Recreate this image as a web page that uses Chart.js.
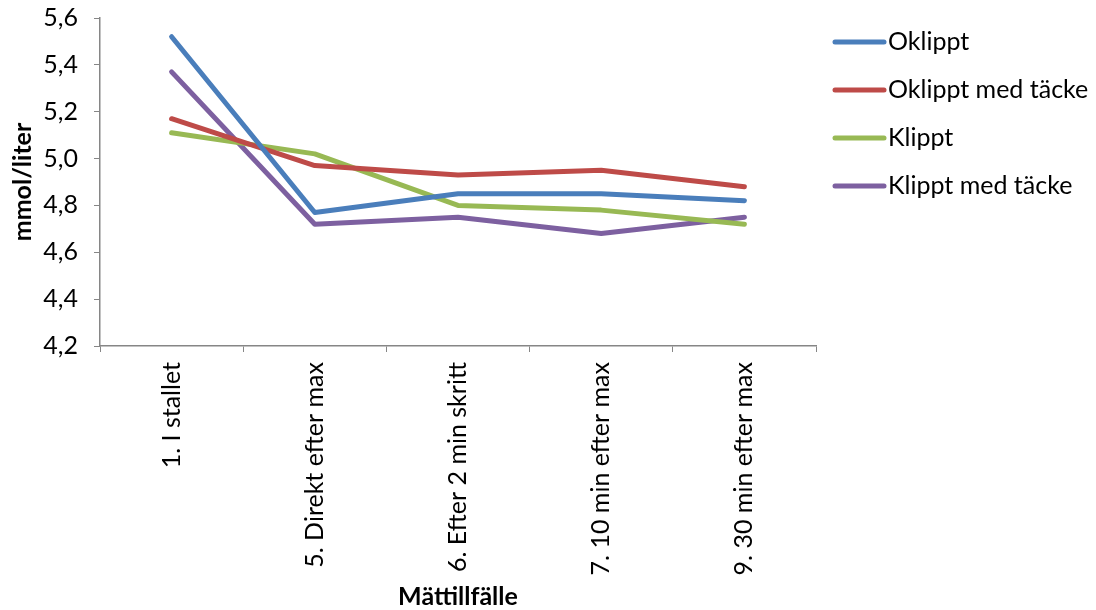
<!DOCTYPE html>
<html>
<head>
<meta charset="utf-8">
<script src="https://cdn.jsdelivr.net/npm/chart.js@4/dist/chart.umd.min.js"></script>
<style>
  html, body { margin: 0; padding: 0; background: #fff; }
  #wrap { width: 1096px; height: 610px; position: relative; }
</style>
</head>
<body>
<div id="wrap"><canvas id="chart"></canvas></div>
<script>
const categories = ["1. I stallet", "5. Direkt efter max", "6. Efter 2 min skritt", "7. 10 min efter max", "9. 30 min efter max"];
const oklippt = [5.52, 4.77, 4.85, 4.85, 4.82];
const oklipptTacke = [5.17, 4.97, 4.93, 4.95, 4.88];
const klippt = [5.11, 5.02, 4.80, 4.78, 4.72];
const klipptTacke = [5.37, 4.72, 4.75, 4.68, 4.75];
const seriesNames = ["Oklippt", "Oklippt med täcke", "Klippt", "Klippt med täcke"];
const colors = ["#4A7EBB", "#BE4B48", "#98B954", "#7D60A0"];

const FONT = "Lato, 'Open Sans', sans-serif";
const axisGrey = "#868686";

function line(label, data, color) {
  return { label, data, borderColor: color, backgroundColor: color, borderWidth: 5,
           pointRadius: 0, tension: 0, borderCapStyle: "round", borderJoinStyle: "round" };
}

// legend drawn by hand so it sits like the original
const sideLegend = {
  id: "sideLegend",
  afterDraw(chart) {
    const c = chart.ctx;
    c.save();
    c.font = "25px " + FONT;
    c.textBaseline = "middle";
    chart.data.datasets.forEach((ds, i) => {
      const y = 42 + i * 48;
      c.strokeStyle = ds.borderColor;
      c.lineWidth = 5;
      c.lineCap = "round";
      c.beginPath(); c.moveTo(835, y); c.lineTo(884, y); c.stroke();
      c.fillStyle = "#000";
      c.fillText(ds.label, 888, y);
    });
    c.restore();
  }
};

new Chart(document.getElementById("chart"), {
  type: "line",
  data: {
    labels: categories,
    datasets: [
      line(seriesNames[0], oklippt, colors[0]),
      line(seriesNames[1], oklipptTacke, colors[1]),
      line(seriesNames[2], klippt, colors[2]),
      line(seriesNames[3], klipptTacke, colors[3])
    ]
  },
  options: {
    responsive: true,
    maintainAspectRatio: false,
    animation: false,
    layout: { padding: { top: 18, right: 280, left: 0, bottom: 0 } },
    plugins: { legend: { display: false }, tooltip: { enabled: false } },
    scales: {
      x: {
        offset: true,
        grid: { offset: true, drawOnChartArea: false, drawTicks: true, tickLength: 6, color: axisGrey },
        border: { color: axisGrey, width: 1.5 },
        ticks: { color: "#000", font: { family: FONT, size: 25 }, minRotation: 90, maxRotation: 90, padding: 10, autoSkip: false },
        title: { display: true, text: "Mättillfälle", color: "#000", font: { family: FONT, size: 25, weight: "bold" }, padding: { top: 0, bottom: -2 } },
        afterFit(scale) { scale.height = 264; scale.paddingLeft = 0; scale.paddingRight = 0; }
      },
      y: {
        min: 4.2, max: 5.6,
        grid: { drawOnChartArea: false, drawTicks: true, tickLength: 6, color: axisGrey },
        border: { color: axisGrey, width: 1.5 },
        ticks: { stepSize: 0.2, color: "#000", font: { family: FONT, size: 25 }, padding: 16,
                 callback: v => v.toFixed(1).replace(".", ",") },
        title: { display: true, text: "mmol/liter", color: "#000", font: { family: FONT, size: 25, weight: "bold" }, padding: { top: 8, bottom: 0 } },
        afterFit(scale) { scale.width = 100; scale.paddingTop = 0; scale.paddingBottom = 0; }
      }
    }
  },
  plugins: [sideLegend]
});
</script>
</body>
</html>
